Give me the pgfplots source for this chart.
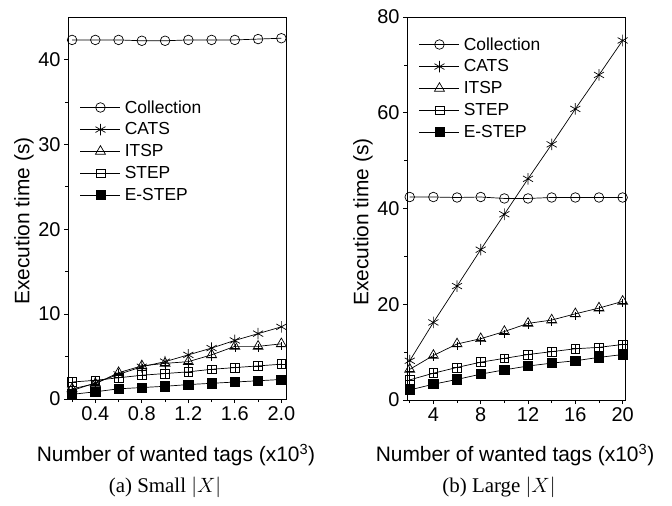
\documentclass[border=0pt]{standalone}
\usepackage{pgfplots}
\usepackage{pgfplotstable}
\pgfplotsset{compat=1.18}
\usepackage{fontspec}
\setmainfont{Liberation Serif}
\newfontfamily\arial{Liberation Sans}

% execution time (s) versus number of wanted tags (x10^3)
\pgfplotstableread{
x   coll cats itsp step estep
0.2 42.3 1.0  1.2  2.0  0.55
0.4 42.3 1.9  1.8  2.2  0.85
0.6 42.3 2.9  3.1  2.5  1.2
0.8 42.2 3.8  3.9  2.8  1.35
1.0 42.2 4.4  4.2  3.0  1.5
1.2 42.3 5.2  4.4  3.2  1.7
1.4 42.3 6.0  5.2  3.5  1.85
1.6 42.3 6.9  6.2  3.7  2.0
1.8 42.4 7.7  6.2  3.9  2.15
2.0 42.5 8.5  6.5  4.1  2.3
}\tabsmall

\pgfplotstableread{
x  coll cats itsp step estep
2  42.4 8.2  6.4  4.2  2.1
4  42.4 16.2 9.3  5.6  3.3
6  42.3 23.8 11.7 6.8  4.3
8  42.4 31.4 12.8 7.9  5.4
10 42.1 38.8 14.3 8.7  6.3
12 42.1 46.2 16.0 9.5  7.1
14 42.3 53.4 16.7 10.1 7.7
16 42.3 60.8 18.0 10.7 8.2
18 42.3 67.9 19.2 11.0 8.9
20 42.3 75.1 20.6 11.6 9.5
}\tablarge

\pgfplotsset{
  panel/.style={
    scale only axis, width=218bp,
    axis line style={line width=0.8bp},
    tick align=outside, xtick pos=bottom, ytick pos=left,
    major tick length=4bp, minor tick length=3bp,
    every tick/.style={line width=0.7bp, black},
    ymin=0,
    ticklabel style={font=\arial\fontsize{20}{22}\selectfont},
    /pgf/number format/assume math mode=true,
    legend style={draw=none, fill=none, font=\arial\fontsize{17.5}{19}\selectfont,
      row sep=4.2bp, anchor=north west, inner sep=1bp,
      nodes={inner xsep=4bp}},
    legend cell align=left,
    legend image code/.code={\draw[mark repeat=2,mark phase=2,#1]
      plot coordinates {(0bp,0bp) (20bp,0bp) (40bp,0bp)};},
    every axis plot/.append style={black, line width=0.7bp},
  },
  coll/.style={mark=o, mark size=4.8bp, mark options={fill=white, solid}},
  cats/.style={mark=asterisk, mark size=5.8bp, mark options={solid}},
  itsp/.style={mark=triangle, mark size=5.8bp, mark options={fill=white, solid}},
  step/.style={mark=square, mark size=4.4bp, mark options={fill=white, solid}},
  estep/.style={mark=square*, mark size=4.6bp, mark options={fill=black, solid}},
  stepcross/.style={only marks, mark=+, mark size=4.4bp, forget plot, line width=0.6bp},
  itspcross/.style={only marks, mark=+, mark size=4bp, forget plot, line width=0.6bp,
    mark options={yshift=-2bp}},
}

\begin{document}
\begin{tikzpicture}
\useasboundingbox (0,0) rectangle (672bp,-506bp);

% (a) small |X|
\begin{axis}[panel, height=382bp,
  at={(68bp,-399bp)}, anchor=south west,
  xmin=0.165, xmax=2.04, ymax=45,
  xtick={0.4,0.8,1.2,1.6,2.0}, minor xtick={0.2,0.6,1.0,1.4,1.8},
  ytick={0,10,20,30,40}, minor ytick={5,15,25,35},
  xticklabel style={/pgf/number format/.cd, fixed, fixed zerofill, precision=1},
  legend style={at={(0.05,0.79)}},
]
\addplot[coll] table[x=x, y=coll] {\tabsmall};
\addplot[cats] table[x=x, y=cats] {\tabsmall};
\addplot[itsp] table[x=x, y=itsp] {\tabsmall};
\addplot[step] table[x=x, y=step] {\tabsmall};
\addplot[estep] table[x=x, y=estep] {\tabsmall};
\addplot[itspcross] table[x=x, y=itsp] {\tabsmall};
\addplot[stepcross] table[x=x, y=step] {\tabsmall};
\legend{Collection, CATS, ITSP, STEP, E-STEP}
\end{axis}

% (b) large |X|
\begin{axis}[panel, height=383bp,
  at={(407bp,-400bp)}, anchor=south west,
  xmin=1.77, xmax=20.2, ymax=80,
  xtick={4,8,12,16,20}, minor xtick={2,6,10,14,18},
  ytick={0,20,40,60,80}, minor ytick={10,30,50,70},
  legend style={at={(0.05,0.955)}},
]
\addplot[coll] table[x=x, y=coll] {\tablarge};
\addplot[cats] table[x=x, y=cats] {\tablarge};
\addplot[itsp] table[x=x, y=itsp] {\tablarge};
\addplot[step] table[x=x, y=step] {\tablarge};
\addplot[estep] table[x=x, y=estep] {\tablarge};
\addplot[itspcross] table[x=x, y=itsp] {\tablarge};
\addplot[stepcross] table[x=x, y=step] {\tablarge};
\legend{Collection, CATS, ITSP, STEP, E-STEP}
\end{axis}

% axis titles and captions
\node[rotate=90, font=\arial\fontsize{21}{23}\selectfont] at (24bp,-221bp) {Execution time (s)};
\node[rotate=90, font=\arial\fontsize{21}{23}\selectfont] at (363bp,-222bp) {Execution time (s)};
\node[font=\arial\fontsize{21}{23}\selectfont] at (176bp,-455bp) {Number of wanted tags (x10\textsuperscript{3})};
\node[font=\arial\fontsize{21}{23}\selectfont] at (515bp,-455bp) {Number of wanted tags (x10\textsuperscript{3})};
\node[font=\fontsize{21}{23}\selectfont] at (165bp,-487bp) {(a) Small $|X|$};
\node[font=\fontsize{21}{23}\selectfont] at (499bp,-487bp) {(b) Large $|X|$};
\end{tikzpicture}
\end{document}
